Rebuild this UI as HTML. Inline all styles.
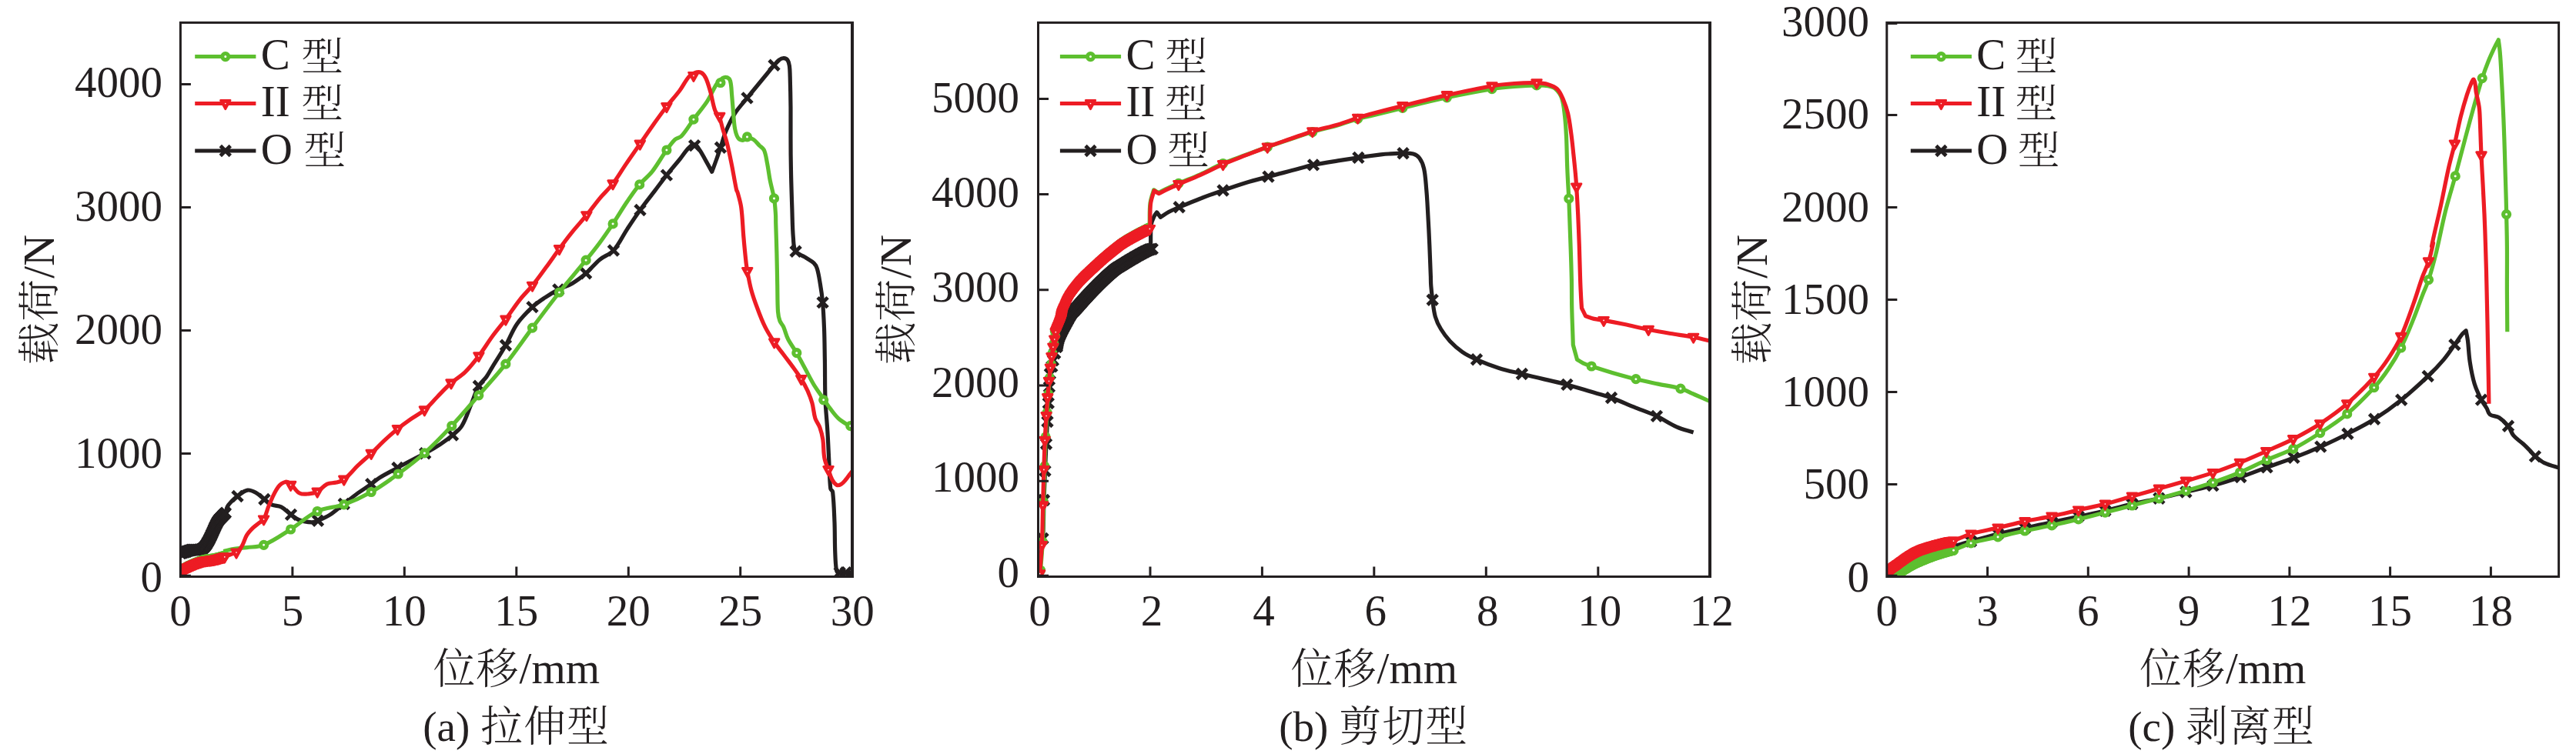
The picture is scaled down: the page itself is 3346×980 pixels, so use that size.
<!DOCTYPE html>
<html lang="zh"><head><meta charset="utf-8"><title>载荷-位移曲线</title>
<style>html,body{margin:0;padding:0;background:#fff}body{width:3346px;height:980px;overflow:hidden}
svg{display:block}text{font-family:"Liberation Serif","Noto Serif CJK SC",serif;font-size:57px;fill:#231f20;font-weight:400}
.cj{font-weight:300;font-size:55px;letter-spacing:1px}
</style></head><body>
<svg width="3346" height="980" viewBox="0 0 3346 980">
<defs>
<g id="mC"><circle r="4.05" fill="#fff" stroke="#5dbf2f" stroke-width="5.1"/></g>
<g id="mR"><path d="M-6.3,-4.1 L6.3,-4.1 L0,7.2 Z" fill="#ed1c24" stroke="#ed1c24" stroke-width="2.8" stroke-linejoin="round"/><circle r="0.85" fill="#fff"/></g>
<g id="mK"><path d="M-6.5,-6.5 L6.5,6.5 M-6.5,6.5 L6.5,-6.5" fill="none" stroke="#231f20" stroke-width="4.8"/></g>
<g id="mCs"><circle r="6.5" fill="#5dbf2f"/></g>
<g id="mRs"><path d="M-6.3,-4.1 L6.3,-4.1 L0,7.2 Z" fill="#ed1c24" stroke="#ed1c24" stroke-width="2.8" stroke-linejoin="round"/></g>
<clipPath id="cp0"><rect x="234.4" y="29.4" width="872.8" height="720.1"/></clipPath>
<clipPath id="cp1"><rect x="1348.5" y="29.4" width="872.7" height="720.1"/></clipPath>
<clipPath id="cp2"><rect x="2450.8" y="29.4" width="872.8" height="720.1"/></clipPath>
</defs>
<g id="chart0">
<g clip-path="url(#cp0)" fill="none" stroke-linejoin="round" stroke-linecap="butt">
<use href="#mK" x="234.9" y="719.1"/>
<use href="#mK" x="236.4" y="718.6"/>
<use href="#mK" x="237.9" y="718.1"/>
<use href="#mK" x="239.5" y="717.6"/>
<use href="#mK" x="241" y="717.2"/>
<use href="#mK" x="242.5" y="716.7"/>
<use href="#mK" x="244" y="716.1"/>
<use href="#mK" x="245.5" y="715.6"/>
<use href="#mK" x="247.1" y="715.2"/>
<use href="#mK" x="248.6" y="714.8"/>
<use href="#mK" x="250.2" y="714.7"/>
<use href="#mK" x="251.8" y="714.6"/>
<use href="#mK" x="253.4" y="714.7"/>
<use href="#mK" x="255" y="714.8"/>
<use href="#mK" x="256.6" y="714.8"/>
<use href="#mK" x="258.2" y="714.6"/>
<use href="#mK" x="259.8" y="714.4"/>
<use href="#mK" x="261.3" y="713.9"/>
<use href="#mK" x="262.8" y="713.2"/>
<use href="#mK" x="264.1" y="712.2"/>
<use href="#mK" x="265.2" y="711.2"/>
<use href="#mK" x="266.3" y="710"/>
<use href="#mK" x="267.3" y="708.7"/>
<use href="#mK" x="268.2" y="707.4"/>
<use href="#mK" x="269" y="706"/>
<use href="#mK" x="269.8" y="704.6"/>
<use href="#mK" x="270.6" y="703.3"/>
<use href="#mK" x="271.4" y="701.9"/>
<use href="#mK" x="272.1" y="700.4"/>
<use href="#mK" x="272.8" y="699"/>
<use href="#mK" x="273.5" y="697.5"/>
<use href="#mK" x="274.2" y="696.1"/>
<use href="#mK" x="274.8" y="694.6"/>
<use href="#mK" x="275.5" y="693.2"/>
<use href="#mK" x="276.2" y="691.7"/>
<use href="#mK" x="276.8" y="690.3"/>
<use href="#mK" x="277.5" y="688.8"/>
<use href="#mK" x="278.1" y="687.3"/>
<use href="#mK" x="278.8" y="685.9"/>
<use href="#mK" x="279.4" y="684.4"/>
<use href="#mK" x="280.1" y="683"/>
<use href="#mK" x="280.8" y="681.5"/>
<use href="#mK" x="281.5" y="680.1"/>
<use href="#mK" x="282.3" y="678.7"/>
<use href="#mK" x="283.1" y="677.3"/>
<use href="#mK" x="284.1" y="676"/>
<use href="#mK" x="285.1" y="674.8"/>
<use href="#mK" x="286.2" y="673.6"/>
<use href="#mK" x="287.3" y="672.5"/>
<use href="#mK" x="288.4" y="671.3"/>
<use href="#mK" x="289.5" y="670.2"/>
<use href="#mK" x="290.6" y="669"/>
<use href="#mK" x="291.8" y="667.9"/>
<use href="#mK" x="292.9" y="666.8"/>
<path d="M293.4,666.3 C294,663.8 293.8,661.4 295,659.1 C296.4,656.2 298.4,654.2 300.6,651.9 C303.1,649.2 305.5,647.1 308.5,645 C312.8,641.9 316.2,637.9 321.5,637.1 C325.8,636.4 329.6,638.9 333.4,641 C337.3,643.2 339.8,646.3 343.4,649 C346.8,651.6 349.4,654.4 353.3,656.2 C357.2,657.9 361.4,657 365.2,658.9 C370.3,661.5 373.4,665.6 378,668.9 C381.7,671.6 384.8,674.4 389.1,676 C394.4,678 399.4,678.6 405,678.8 C407.9,678.9 410.3,677.9 413,676.8 C418.7,674.4 423.7,672.3 428.9,668.9 C435.5,664.6 440.5,659.8 446.8,655 C453.1,650.1 458.3,645.7 464.7,641 C470.7,636.7 476.2,633.4 482.2,629.1 C485.9,626.5 488.6,623.5 492.5,621.2 C500.6,616.2 508,612.6 516.4,608 C523.3,604.2 529.3,600.9 536.3,597.3 C541.8,594.4 546.8,592.4 552.2,589.3 C559.3,585.4 565.3,581.9 572.1,577.4 C577.9,573.5 582.7,570 588,565.5 C592.5,561.6 596.9,558.6 599.9,553.5 C605.4,544.4 607.7,535.5 611.9,525.7 C615.4,517.4 617.4,509.7 621.8,501.8 C624.4,497.1 628.6,494.3 631.8,489.9 C634.9,485.5 636.9,481.3 639.8,476.6 C645.7,466.9 651.2,458.7 656.9,448.8 C662.4,439.2 665.3,430 671.6,420.9 C677.5,412.4 684,406.2 691.5,399.1 C696.5,394.3 701.6,391 707.4,387.1 C713.5,383.1 718.8,379.8 725.3,376.4 C731.4,373.2 737.3,371.9 743.2,368.4 C749.9,364.5 755.2,360.4 761.1,355.3 C767.8,349.5 772.2,343.1 779,337.4 C784.8,332.6 791.9,331.1 796.9,325.5 C804.6,316.9 808.4,307.3 814.8,297.6 C820.5,288.9 825.4,281.4 831.5,273 C837.9,264 843.9,256.7 850.6,247.9 C856,240.8 860.4,234.6 865.9,227.6 C871.7,220.3 877.1,214.2 883,207 C887.2,201.7 890.1,196.6 894.9,191.8 C896.9,189.8 899.3,187.2 902.1,187.9 C905.4,188.6 906.9,192.2 908.8,195 C912,199.6 914,204.1 916.8,208.9 C919.6,213.9 922,218.2 924.7,223.3 C924.7,223.3 924.7,223.3 924.7,223.3 C926.8,217.6 928.7,212.7 930.7,207 C932.6,201.7 934.1,197.1 935.9,191.8 C938.3,184.6 939.7,178.2 942.6,171.2 C946.3,162.5 949.6,155.2 954.6,147.3 C959.4,139.8 964.9,134.3 970.5,127.4 C976.7,119.7 982.1,113.2 988.4,105.5 C994.4,98.3 999.4,92 1005.5,84.8 C1007.7,82.2 1009.5,79.7 1012.3,77.7 C1014,76.4 1016,75.6 1018.2,75.7 C1020.1,75.8 1021.9,76.6 1023,78.1 C1024.6,80.3 1025,82.9 1025.4,85.6 C1026.1,90.5 1026,94.7 1026.2,99.6 C1026.6,113.5 1026.8,125.4 1027,139.3 C1027.1,153.3 1026.9,165.2 1027,179.1 C1027,193 1027.1,205 1027.4,218.9 C1027.7,236.7 1028.2,252 1028.8,269.8 C1029.3,283.7 1029.2,295.7 1030.4,309.6 C1030.9,315.6 1030.4,321.5 1033.6,326.7 C1036.2,330.9 1041.4,331.5 1045.5,334.2 C1049.7,337 1053.8,338.7 1057.4,342.2 C1059.5,344.1 1060.6,346.6 1061.4,349.3 C1063.4,356.1 1064.2,362.2 1065.4,369.2 C1066.8,377.5 1067.8,384.7 1068.6,393.1 C1069.7,405.6 1070.1,416.3 1070.6,428.9 C1071.1,442.8 1071.1,454.7 1071.4,468.7 C1071.7,486.6 1071.4,501.9 1072,519.8 C1072.6,533.7 1074,545.6 1074.8,559.6 C1075.7,573.5 1076.1,585.5 1076.8,599.4 C1077.5,611.9 1077.3,622.7 1078.8,635.2 C1079,636.9 1081.4,637.5 1081.6,639.2 C1083.2,653 1083.4,665 1084,679 C1084.5,692.9 1084.2,704.8 1084.8,718.8 C1085.1,726.4 1085.2,733.1 1086.4,740.6 C1086.6,742.1 1087.3,744 1088.8,744.2 C1097,745.4 1104.3,744.2 1112.6,744.2" stroke="#231f20" stroke-width="5.2"/>
<use href="#mK" x="308.5" y="645"/>
<use href="#mK" x="343.4" y="649"/>
<use href="#mK" x="378" y="668.9"/>
<use href="#mK" x="413" y="676.8"/>
<use href="#mK" x="446.8" y="655"/>
<use href="#mK" x="482.2" y="629.1"/>
<use href="#mK" x="516.4" y="608"/>
<use href="#mK" x="552.2" y="589.3"/>
<use href="#mK" x="588" y="565.5"/>
<use href="#mK" x="621.8" y="501.8"/>
<use href="#mK" x="656.9" y="448.8"/>
<use href="#mK" x="691.5" y="399.1"/>
<use href="#mK" x="725.3" y="376.4"/>
<use href="#mK" x="761.1" y="355.3"/>
<use href="#mK" x="796.9" y="325.5"/>
<use href="#mK" x="831.5" y="273"/>
<use href="#mK" x="865.9" y="227.6"/>
<use href="#mK" x="902.1" y="189.1"/>
<use href="#mK" x="935.9" y="191.8"/>
<use href="#mK" x="970.5" y="127.4"/>
<use href="#mK" x="1005.5" y="84.8"/>
<use href="#mK" x="1033.6" y="326.7"/>
<use href="#mK" x="1068.6" y="393.1"/>
<use href="#mK" x="1090.7" y="744.2"/>
<use href="#mK" x="1098.7" y="744.2"/>
<use href="#mCs" x="236.9" y="739.4"/>
<use href="#mCs" x="238.3" y="738.7"/>
<use href="#mCs" x="239.7" y="737.9"/>
<use href="#mCs" x="241.1" y="737.1"/>
<use href="#mCs" x="242.5" y="736.4"/>
<use href="#mCs" x="243.9" y="735.6"/>
<use href="#mCs" x="245.4" y="734.9"/>
<use href="#mCs" x="246.8" y="734.2"/>
<use href="#mCs" x="248.3" y="733.5"/>
<use href="#mCs" x="249.7" y="732.9"/>
<use href="#mCs" x="251.2" y="732.2"/>
<use href="#mCs" x="252.7" y="731.6"/>
<use href="#mCs" x="254.1" y="731"/>
<use href="#mCs" x="255.6" y="730.4"/>
<use href="#mCs" x="257.1" y="729.9"/>
<use href="#mCs" x="258.6" y="729.3"/>
<use href="#mCs" x="260.2" y="728.8"/>
<use href="#mCs" x="261.7" y="728.3"/>
<use href="#mCs" x="263.2" y="727.8"/>
<use href="#mCs" x="264.7" y="727.4"/>
<use href="#mCs" x="266.3" y="727.1"/>
<use href="#mCs" x="267.9" y="726.8"/>
<use href="#mCs" x="269.5" y="726.6"/>
<use href="#mCs" x="271.1" y="726.4"/>
<use href="#mCs" x="272.7" y="726.3"/>
<use href="#mCs" x="274.2" y="726.1"/>
<use href="#mCs" x="275.8" y="725.9"/>
<use href="#mCs" x="277.4" y="725.6"/>
<use href="#mCs" x="279" y="725.3"/>
<use href="#mCs" x="280.5" y="724.9"/>
<use href="#mCs" x="282.1" y="724.6"/>
<use href="#mCs" x="283.6" y="724.2"/>
<use href="#mCs" x="285.2" y="723.8"/>
<use href="#mCs" x="286.7" y="723.3"/>
<use href="#mCs" x="288.3" y="722.9"/>
<use href="#mCs" x="289.8" y="722.5"/>
<use href="#mCs" x="291.4" y="722.1"/>
<path d="M290.3,716.5 C295.3,715.3 299.5,714 304.6,713.2 C310.1,712.3 315,712.3 320.5,711.6 C328.2,710.6 335.4,711.3 342.6,708.3 C355.7,702.9 365.6,695.5 377.6,688 C390,680.2 398.9,670.7 412.2,664.5 C423.5,659.2 435,660 446.8,655.8 C459.6,651.2 470.3,646.2 482.2,639.5 C495,632.2 505.3,624.7 517.2,616 C529.5,607 540,599.1 551.4,588.9 C564.4,577.2 574.8,566.3 586.8,553.5 C599.5,540 609.6,527.7 621.8,513.8 C634.1,499.6 645.1,487.9 656.8,473.2 C669.5,457.2 679.2,442.5 691.5,426.1 C703.6,409.9 713.9,395.9 726.5,380 C738.3,365.1 749.1,352.9 761.1,338.2 C767.5,330.4 773,323.7 779,315.5 C785.2,307.1 790.3,299.6 796.1,290.9 C802.8,280.8 808,271.8 814.8,261.8 C820.1,254 824.7,247.2 830.7,239.9 C836,233.6 842.1,229.4 847.2,222.9 C854.4,213.6 859,204.6 865.9,195 C869.5,189.9 872.5,185.4 877,181.1 C879.3,179 882.9,179.4 885,177.1 C891.4,170.2 895.2,162.9 900.9,155.2 C907.1,146.8 913.1,140.1 918.8,131.4 C923.5,124.1 925.9,116.8 930.7,109.5 C932.9,106.2 935.3,103.6 938.7,101.5 C940.4,100.4 942.7,100 944.6,100.7 C946.6,101.6 948.1,103.4 948.6,105.5 C950.2,111.6 950,117.1 950.6,123.4 C951.4,131.8 951.8,138.9 952.6,147.3 C953.2,154.3 953.3,160.3 954.6,167.2 C955.4,171.5 956.1,175.4 958.6,179.1 C959.9,181.1 962.2,182.3 964.5,182.3 C966.9,182.3 968.1,179.3 970.5,179.1 C973.3,178.9 976,179.6 978.4,181.1 C981.8,183.2 983.6,186.3 986.4,189.1 C988.5,191.1 991.1,192.3 992.4,195 C994.7,200.2 995.2,205.3 996.3,210.9 C998,219.2 998.7,226.5 1000.3,234.8 C1001.9,242.9 1004.2,249.7 1005.5,257.9 C1006.7,265 1007,271.3 1007.5,278.6 C1007.8,282.4 1007.6,285.8 1007.7,289.7 C1008.1,303.6 1008.6,315.5 1008.9,329.4 C1009.3,343.4 1009.4,355.3 1009.7,369.2 C1010,381.8 1009.7,392.5 1010.5,405 C1010.8,409.3 1011.4,412.9 1012.9,417 C1014,420 1016.3,421.9 1017.7,424.9 C1020.1,430.3 1020.9,435.5 1023.6,440.8 C1027,447.4 1031.1,452.3 1034.8,458.7 C1038.7,465.6 1041.7,471.7 1045.5,478.6 C1049.7,486.3 1052.9,493 1057.4,500.5 C1061.6,507.2 1065.7,512.6 1070.2,519.2 C1073.2,523.6 1075.6,527.5 1078.8,531.7 C1082.1,536.1 1084.8,539.9 1088.8,543.7 C1091.9,546.6 1095.1,548.6 1098.7,550.8 C1100.7,552.1 1102.5,552.9 1104.7,553.6 C1107.4,554.5 1109.8,554.9 1112.6,555.6" stroke="#5dbf2f" stroke-width="5.2"/>
<use href="#mC" x="342.6" y="708.3"/>
<use href="#mC" x="377.6" y="688"/>
<use href="#mC" x="412.2" y="664.5"/>
<use href="#mC" x="446.8" y="655.8"/>
<use href="#mC" x="482.2" y="639.5"/>
<use href="#mC" x="517.2" y="616"/>
<use href="#mC" x="551.4" y="588.9"/>
<use href="#mC" x="586.8" y="553.5"/>
<use href="#mC" x="621.8" y="513.8"/>
<use href="#mC" x="656.8" y="473.2"/>
<use href="#mC" x="691.5" y="426.1"/>
<use href="#mC" x="726.5" y="380"/>
<use href="#mC" x="761.1" y="338.2"/>
<use href="#mC" x="796.1" y="290.9"/>
<use href="#mC" x="830.7" y="239.9"/>
<use href="#mC" x="865.9" y="195"/>
<use href="#mC" x="900.9" y="155.2"/>
<use href="#mC" x="935.9" y="107.5"/>
<use href="#mC" x="970.5" y="177.9"/>
<use href="#mC" x="1005.5" y="257.9"/>
<use href="#mC" x="1034.8" y="458.7"/>
<use href="#mC" x="1069.7" y="519.8"/>
<use href="#mC" x="1104.7" y="553.6"/>
<use href="#mRs" x="236.9" y="741.2"/>
<use href="#mRs" x="238.3" y="740.5"/>
<use href="#mRs" x="239.7" y="739.7"/>
<use href="#mRs" x="241.1" y="738.9"/>
<use href="#mRs" x="242.5" y="738.2"/>
<use href="#mRs" x="243.9" y="737.4"/>
<use href="#mRs" x="245.4" y="736.7"/>
<use href="#mRs" x="246.8" y="736"/>
<use href="#mRs" x="248.3" y="735.3"/>
<use href="#mRs" x="249.7" y="734.7"/>
<use href="#mRs" x="251.2" y="734"/>
<use href="#mRs" x="252.7" y="733.4"/>
<use href="#mRs" x="254.1" y="732.8"/>
<use href="#mRs" x="255.6" y="732.2"/>
<use href="#mRs" x="257.1" y="731.7"/>
<use href="#mRs" x="258.6" y="731.1"/>
<use href="#mRs" x="260.2" y="730.6"/>
<use href="#mRs" x="261.7" y="730.1"/>
<use href="#mRs" x="263.2" y="729.6"/>
<use href="#mRs" x="264.7" y="729.2"/>
<use href="#mRs" x="266.3" y="728.9"/>
<use href="#mRs" x="267.9" y="728.6"/>
<use href="#mRs" x="269.5" y="728.4"/>
<use href="#mRs" x="271.1" y="728.2"/>
<use href="#mRs" x="272.7" y="728.1"/>
<use href="#mRs" x="274.2" y="727.9"/>
<use href="#mRs" x="275.8" y="727.7"/>
<use href="#mRs" x="277.4" y="727.4"/>
<use href="#mRs" x="279" y="727.1"/>
<use href="#mRs" x="280.5" y="726.7"/>
<use href="#mRs" x="282.1" y="726.4"/>
<use href="#mRs" x="283.6" y="726"/>
<use href="#mRs" x="285.2" y="725.6"/>
<use href="#mRs" x="286.7" y="725.1"/>
<use href="#mRs" x="288.3" y="724.7"/>
<use href="#mRs" x="289.8" y="724.3"/>
<use href="#mRs" x="291.4" y="723.9"/>
<path d="M291.8,723.6 C294.7,722.5 297.1,721.6 300,720.5 C302.4,719.6 304.9,719.6 307,718 C310,715.8 312.2,713.2 314.1,710 C316.9,705.3 317.7,700.4 320.5,695.7 C322.8,692 325.4,689.3 328.5,686.2 C331,683.7 333.6,682 336.4,679.8 C338.6,678.1 341.2,677.3 342.6,674.9 C345.9,669 346.6,663.1 349.3,657 C353.1,648.4 355.8,640.7 361.3,633.1 C363.7,629.7 367.1,627.3 371.2,626.3 C373.6,625.7 375.7,627.6 377.6,629.1 C382.1,632.8 384,638.3 389.1,641 C392.8,643 396.9,642.2 401,641.8 C405,641.5 408.6,640.9 412.2,639.1 C417.2,636.4 419.8,631.6 424.9,629.1 C428.7,627.3 432.8,628.2 436.8,627.1 C440.5,626.1 443.8,625.5 446.8,623.1 C453.8,617.7 458.3,611.4 464.7,605.2 C470.7,599.5 476.2,595 482.2,589.3 C488.7,583.2 493.9,577.5 500.5,571.4 C505.9,566.4 510.7,562.2 516.4,557.5 C521.8,553.1 526.6,549.6 532.3,545.6 C538.9,541 545.2,538 551.4,532.8 C557.8,527.5 562.2,521.7 568.1,515.7 C574.3,509.4 579.4,503.7 586,497.8 C591.9,492.6 598.2,489.5 603.9,483.9 C610.9,477.1 616,470.4 621.9,462.7 C628.5,453.9 633.3,445.7 639.8,436.8 C645.5,429 651,422.7 656.9,415 C663.6,406 668.6,397.9 675.6,389.1 C680.8,382.5 686.2,377.7 691.5,371.2 C698.1,363.1 703.2,355.8 709.4,347.3 C715.5,339.1 720.4,331.7 726.5,323.5 C732.2,315.7 737.1,309.1 743.2,301.6 C749.5,293.8 755.5,287.5 761.9,279.7 C768,272.2 772.8,265.3 779,257.8 C784.7,251 790.7,245.9 796.1,238.8 C802.7,230.1 807.2,221.9 813.4,212.9 C819.6,203.8 825,196.1 831.3,187.1 C837.5,178 842.8,170.2 849.2,161.2 C854.9,153.2 859.8,146.3 865.9,138.5 C871.7,131 877.3,125.1 883,117.5 C887.5,111.4 890,105.3 894.9,99.6 C897.1,97 899.7,95.4 902.9,94.4 C905.5,93.5 908.3,93.1 910.8,94.4 C913.7,95.9 915.4,98.6 916.8,101.5 C919.6,107.5 920.9,113.1 922.8,119.4 C925.1,127.7 925.9,135.2 928.7,143.3 C930.1,147.1 933.1,149.5 934.7,153.3 C936.6,157.9 937.2,162.3 938.7,167.2 C940.7,174.1 942.9,180 944.6,187.1 C947,196.7 948.6,205.1 950.6,214.9 C952.8,226 954.2,235.6 956.6,246.7 C956.8,247.9 957.7,248.7 958,249.9 C959.9,256.8 961.8,262.7 962.8,269.8 C964.6,283.6 964.7,295.6 966,309.6 C966.9,320.7 967.9,330.3 969.1,341.4 C969.6,345.3 970,348.6 970.7,352.5 C972.4,361.2 973.6,368.7 975.9,377.2 C978.2,385.7 980.8,392.8 983.9,401 C987,409.5 989.7,416.8 993.8,424.9 C997.4,432.2 1001.2,438 1005.7,444.8 C1009.6,450.6 1013.5,455.1 1017.7,460.7 C1021.8,466.3 1025.5,471 1029.6,476.6 C1033.6,482.1 1037.1,486.8 1040.7,492.5 C1043.9,497.7 1046.4,502.3 1049,507.9 C1051.4,513.3 1053.3,518 1054.9,523.8 C1056.8,530.6 1056.8,536.9 1058.9,543.7 C1060.3,548.1 1063.3,551.2 1064.9,555.6 C1066.8,561 1068,565.8 1068.9,571.5 C1070.1,579.8 1069.3,587.2 1070.9,595.4 C1071.9,600.9 1074.1,605.3 1076,610.5 C1077.6,615 1078.5,619.1 1080.8,623.3 C1082.4,626.1 1083.8,629 1086.8,630.4 C1088.7,631.4 1090.9,630.3 1092.7,629.2 C1095.3,627.7 1096.8,625.5 1098.7,623.3 C1101,620.6 1102.5,618 1104.7,615.3 C1107.4,611.8 1109.8,608.8 1112.6,605.3" stroke="#ed1c24" stroke-width="5.2"/>
<use href="#mR" x="291.8" y="723.8"/>
<use href="#mR" x="307" y="718"/>
<use href="#mR" x="342.6" y="674.9"/>
<use href="#mR" x="377.6" y="630.3"/>
<use href="#mR" x="412.2" y="639.1"/>
<use href="#mR" x="446.8" y="623.1"/>
<use href="#mR" x="482.2" y="589.3"/>
<use href="#mR" x="516.4" y="557.5"/>
<use href="#mR" x="551.4" y="532.8"/>
<use href="#mR" x="586" y="497.8"/>
<use href="#mR" x="621.9" y="462.7"/>
<use href="#mR" x="656.9" y="415"/>
<use href="#mR" x="691.5" y="371.2"/>
<use href="#mR" x="726.5" y="323.5"/>
<use href="#mR" x="761.9" y="279.7"/>
<use href="#mR" x="796.1" y="238.8"/>
<use href="#mR" x="831.3" y="187.1"/>
<use href="#mR" x="865.9" y="138.5"/>
<use href="#mR" x="900.9" y="98.4"/>
<use href="#mR" x="934.7" y="151.3"/>
<use href="#mR" x="970.7" y="352.5"/>
<use href="#mR" x="1005.7" y="444.8"/>
<use href="#mR" x="1040.7" y="492.5"/>
<use href="#mR" x="1076" y="610.5"/>
</g>
<rect x="234.4" y="29.4" width="872.8" height="720.1" fill="none" stroke="#231f20" stroke-width="3"/>
<path d="M1107,27.9 V751" fill="none" stroke="#231f20" stroke-width="4"/>
<path d="M379.9,749.5 v-13 M525.3,749.5 v-13 M670.8,749.5 v-13 M816.3,749.5 v-13 M961.7,749.5 v-13 M234.4,748.3 h13.5 M234.4,589.5 h13.5 M234.4,429.5 h13.5 M234.4,269.5 h13.5 M234.4,109.5 h13.5" fill="none" stroke="#231f20" stroke-width="3"/>
<text x="234.4" y="813.2" text-anchor="middle">0</text>
<text x="379.9" y="813.2" text-anchor="middle">5</text>
<text x="525.3" y="813.2" text-anchor="middle">10</text>
<text x="670.8" y="813.2" text-anchor="middle">15</text>
<text x="816.3" y="813.2" text-anchor="middle">20</text>
<text x="961.7" y="813.2" text-anchor="middle">25</text>
<text x="1107.2" y="813.2" text-anchor="middle">30</text>
<text x="210.9" y="768.5" text-anchor="end">0</text>
<text x="210.9" y="608" text-anchor="end">1000</text>
<text x="210.9" y="447.4" text-anchor="end">2000</text>
<text x="210.9" y="286.9" text-anchor="end">3000</text>
<text x="210.9" y="126.3" text-anchor="end">4000</text>
<text x="670.8" y="888.3" text-anchor="middle"><tspan class="cj">位移</tspan>/mm</text>
<text transform="translate(70,389.3) rotate(-90)" text-anchor="middle"><tspan class="cj">载荷</tspan>/N</text>
<text x="670.6" y="962.8" text-anchor="middle" style="font-size:55px">(a) <tspan class="cj">拉伸型</tspan></text>
<path d="M253.2,73.6 h79.2" stroke="#5dbf2f" stroke-width="5" fill="none"/>
<use href="#mC" x="292.8" y="73.6"/>
<text x="338.7" y="90.4">C</text>
<text class="cj" transform="translate(391.3,90.6) scale(1,0.9)">型</text>
<path d="M253.2,134.5 h79.2" stroke="#ed1c24" stroke-width="5" fill="none"/>
<use href="#mR" x="292.8" y="134.5"/>
<text x="338.7" y="151.3">II</text>
<text class="cj" transform="translate(391.2,151.5) scale(1,0.9)">型</text>
<path d="M253.2,196 h79.2" stroke="#231f20" stroke-width="5" fill="none"/>
<use href="#mK" x="292.8" y="196"/>
<text x="338.7" y="212.8">O</text>
<text class="cj" transform="translate(394.4,213) scale(1,0.9)">型</text>
</g>
<g id="chart1">
<g clip-path="url(#cp1)" fill="none" stroke-linejoin="round" stroke-linecap="butt">
<use href="#mK" x="1372.6" y="450.9"/>
<use href="#mK" x="1372.9" y="449.3"/>
<use href="#mK" x="1373.2" y="447.8"/>
<use href="#mK" x="1373.5" y="446.2"/>
<use href="#mK" x="1373.8" y="444.6"/>
<use href="#mK" x="1374.1" y="443"/>
<use href="#mK" x="1374.5" y="441.5"/>
<use href="#mK" x="1374.9" y="439.9"/>
<use href="#mK" x="1375.4" y="438.4"/>
<use href="#mK" x="1376" y="437"/>
<use href="#mK" x="1376.6" y="435.5"/>
<use href="#mK" x="1377.3" y="434"/>
<use href="#mK" x="1377.9" y="432.6"/>
<use href="#mK" x="1378.6" y="431.1"/>
<use href="#mK" x="1379.3" y="429.7"/>
<use href="#mK" x="1380.1" y="428.2"/>
<use href="#mK" x="1380.8" y="426.8"/>
<use href="#mK" x="1381.5" y="425.4"/>
<use href="#mK" x="1382.3" y="424"/>
<use href="#mK" x="1383.1" y="422.6"/>
<use href="#mK" x="1383.8" y="421.2"/>
<use href="#mK" x="1384.6" y="419.8"/>
<use href="#mK" x="1385.3" y="418.4"/>
<use href="#mK" x="1386.1" y="417"/>
<use href="#mK" x="1386.9" y="415.6"/>
<use href="#mK" x="1387.6" y="414.2"/>
<use href="#mK" x="1388.4" y="412.8"/>
<use href="#mK" x="1389.2" y="411.4"/>
<use href="#mK" x="1390.1" y="410"/>
<use href="#mK" x="1390.9" y="408.7"/>
<use href="#mK" x="1391.8" y="407.3"/>
<use href="#mK" x="1392.7" y="406"/>
<use href="#mK" x="1394" y="405.1"/>
<use href="#mK" x="1395.1" y="403.9"/>
<use href="#mK" x="1396.2" y="402.7"/>
<use href="#mK" x="1397.3" y="401.6"/>
<use href="#mK" x="1398.3" y="400.4"/>
<use href="#mK" x="1399.4" y="399.2"/>
<use href="#mK" x="1400.5" y="398"/>
<use href="#mK" x="1401.6" y="396.8"/>
<use href="#mK" x="1402.6" y="395.6"/>
<use href="#mK" x="1403.7" y="394.4"/>
<use href="#mK" x="1404.7" y="393.2"/>
<use href="#mK" x="1405.8" y="392"/>
<use href="#mK" x="1406.9" y="390.8"/>
<use href="#mK" x="1407.9" y="389.6"/>
<use href="#mK" x="1409" y="388.4"/>
<use href="#mK" x="1410.1" y="387.2"/>
<use href="#mK" x="1411.2" y="386.1"/>
<use href="#mK" x="1412.2" y="384.9"/>
<use href="#mK" x="1413.3" y="383.7"/>
<use href="#mK" x="1414.4" y="382.5"/>
<use href="#mK" x="1415.5" y="381.4"/>
<use href="#mK" x="1416.6" y="380.2"/>
<use href="#mK" x="1417.7" y="379"/>
<use href="#mK" x="1418.8" y="377.9"/>
<use href="#mK" x="1419.9" y="376.7"/>
<use href="#mK" x="1421" y="375.6"/>
<use href="#mK" x="1422.1" y="374.4"/>
<use href="#mK" x="1423.3" y="373.3"/>
<use href="#mK" x="1424.4" y="372.2"/>
<use href="#mK" x="1425.5" y="371"/>
<use href="#mK" x="1426.6" y="369.9"/>
<use href="#mK" x="1427.8" y="368.8"/>
<use href="#mK" x="1428.9" y="367.6"/>
<use href="#mK" x="1430.1" y="366.5"/>
<use href="#mK" x="1431.2" y="365.4"/>
<use href="#mK" x="1432.4" y="364.3"/>
<use href="#mK" x="1433.5" y="363.2"/>
<use href="#mK" x="1434.7" y="362.1"/>
<use href="#mK" x="1435.9" y="361"/>
<use href="#mK" x="1437" y="359.9"/>
<use href="#mK" x="1438.2" y="358.8"/>
<use href="#mK" x="1439.4" y="357.8"/>
<use href="#mK" x="1440.6" y="356.7"/>
<use href="#mK" x="1441.8" y="355.6"/>
<use href="#mK" x="1443" y="354.6"/>
<use href="#mK" x="1444.2" y="353.5"/>
<use href="#mK" x="1445.4" y="352.5"/>
<use href="#mK" x="1446.7" y="351.5"/>
<use href="#mK" x="1447.9" y="350.5"/>
<use href="#mK" x="1449.2" y="349.5"/>
<use href="#mK" x="1450.5" y="348.6"/>
<use href="#mK" x="1451.8" y="347.7"/>
<use href="#mK" x="1453.2" y="346.9"/>
<use href="#mK" x="1454.6" y="346.1"/>
<use href="#mK" x="1455.9" y="345.2"/>
<use href="#mK" x="1457.3" y="344.4"/>
<use href="#mK" x="1458.7" y="343.6"/>
<use href="#mK" x="1460" y="342.7"/>
<use href="#mK" x="1461.4" y="341.9"/>
<use href="#mK" x="1462.7" y="341"/>
<use href="#mK" x="1464.1" y="340.2"/>
<use href="#mK" x="1465.5" y="339.4"/>
<use href="#mK" x="1466.8" y="338.5"/>
<use href="#mK" x="1468.2" y="337.7"/>
<use href="#mK" x="1469.6" y="336.9"/>
<use href="#mK" x="1471" y="336.1"/>
<use href="#mK" x="1472.4" y="335.3"/>
<use href="#mK" x="1473.7" y="334.5"/>
<use href="#mK" x="1475.1" y="333.7"/>
<use href="#mK" x="1476.5" y="332.9"/>
<use href="#mK" x="1477.9" y="332.1"/>
<use href="#mK" x="1479.3" y="331.3"/>
<use href="#mK" x="1480.7" y="330.6"/>
<use href="#mK" x="1482.1" y="329.8"/>
<use href="#mK" x="1483.5" y="329"/>
<use href="#mK" x="1484.9" y="328.3"/>
<use href="#mK" x="1486.4" y="327.5"/>
<use href="#mK" x="1487.8" y="326.8"/>
<use href="#mK" x="1489.2" y="326.1"/>
<use href="#mK" x="1490.7" y="325.4"/>
<use href="#mK" x="1492.1" y="324.7"/>
<use href="#mK" x="1493.6" y="324.3"/>
<use href="#mK" x="1495.2" y="323.9"/>
<use href="#mK" x="1496.8" y="323.6"/>
<path d="M1348.5,749.2 C1350.6,732 1353.2,717.3 1354.5,700 C1355.8,682.5 1355.4,667.5 1356,650 C1356.5,636.7 1357,625.3 1357.5,612 C1358,599.7 1358.4,589.2 1359,577 C1359.5,566.8 1360,558.1 1360.5,548 C1360.9,539.6 1361.4,532.4 1361.8,524 C1362.2,516.7 1362.5,510.3 1362.9,503 C1363.2,497 1363.1,491.9 1363.9,486 C1364.3,482.6 1365.5,479.8 1366.3,476.4 C1366.9,473.6 1367.3,471.2 1367.9,468.4 C1368.6,465.2 1369.3,462.4 1370.2,459.2 C1371,456.3 1371.8,453.8 1372.6,450.9" stroke="#231f20" stroke-width="5.2"/>
<path d="M1494.6,320 C1494.9,310.1 1494.2,301.6 1495.4,291.8 C1495.9,287.7 1497.7,284.5 1499.4,280.7 C1500.2,278.9 1501.5,277.6 1502.6,275.9 C1502.6,275.9 1502.6,275.9 1502.6,275.9 C1504.3,278.1 1505.7,280.1 1507.4,282.3 C1507.4,282.3 1507.4,282.3 1507.4,282.3 C1511.1,279.9 1514.1,277.6 1518,275.5 C1522.6,273 1526.9,271.4 1531.7,269.3 C1541.2,265.3 1549.2,261.9 1558.8,258.2 C1569.1,254.2 1578.1,251.1 1588.6,247.5 C1599,243.8 1607.9,240.7 1618.4,237.5 C1628.5,234.4 1637.3,232.3 1647.5,229.6 C1658.2,226.7 1667.4,224.4 1678.1,221.6 C1687.8,219.1 1696.1,216.5 1706,214.4 C1717,212.1 1726.6,210.7 1737.8,208.9 C1747.1,207.4 1755.1,206.2 1764.4,204.9 C1774.6,203.4 1783.3,202.2 1793.5,200.9 C1797.1,200.5 1800.2,200.2 1803.9,200 C1810.4,199.6 1816,199.2 1822.6,199.2 C1827.2,199.2 1831.3,198.8 1835.7,200 C1838.9,200.9 1841.7,202.5 1843.6,205.2 C1846.8,209.5 1848.5,213.9 1849.6,219.1 C1851.7,228.7 1851.9,237.2 1852.8,247 C1853.8,258.1 1854.2,267.6 1854.8,278.8 C1855.6,292.7 1856.2,304.6 1856.8,318.6 C1857.4,333 1857.8,345.4 1858.4,359.9 C1858.5,364.1 1858.4,367.7 1858.8,371.8 C1859.3,378.1 1859.9,383.5 1860.7,389.7 C1861.8,397.4 1862.2,404.1 1864.3,411.6 C1866,417.5 1868.3,422.3 1871.5,427.5 C1875.1,433.5 1878.7,438.3 1883.4,443.4 C1888.5,448.8 1893.2,453.1 1899.3,457.3 C1905.4,461.6 1911.2,464.3 1918,467.3 C1928,471.7 1936.7,475.1 1947.1,478.4 C1957.3,481.7 1966.4,483.4 1976.9,486 C1987.3,488.6 1996.3,490.7 2006.7,493.1 C2016.7,495.5 2025.4,497.3 2035.4,499.9 C2046.3,502.8 2055.5,505.8 2066.4,509.1 C2075.7,511.8 2083.9,513.7 2093,517 C2103.4,520.7 2111.9,524.8 2122.1,528.9 C2132.5,533.2 2141.7,536.1 2151.9,540.9 C2161.2,545.2 2168.4,550.6 2177.8,554.8 C2185.1,558.1 2192,559.5 2199.6,562" stroke="#231f20" stroke-width="5.2"/>
<use href="#mK" x="1348.5" y="749.2"/>
<use href="#mK" x="1354.5" y="700"/>
<use href="#mK" x="1356" y="650"/>
<use href="#mK" x="1357.5" y="612"/>
<use href="#mK" x="1359" y="577"/>
<use href="#mK" x="1360.5" y="548"/>
<use href="#mK" x="1361.8" y="524"/>
<use href="#mK" x="1362.9" y="503"/>
<use href="#mK" x="1363.9" y="486"/>
<use href="#mK" x="1366.3" y="476.4"/>
<use href="#mK" x="1367.9" y="468.4"/>
<use href="#mK" x="1370.2" y="459.2"/>
<use href="#mK" x="1372.6" y="450.9"/>
<use href="#mK" x="1531.7" y="269.3"/>
<use href="#mK" x="1588.6" y="247.5"/>
<use href="#mK" x="1647.5" y="229.6"/>
<use href="#mK" x="1706" y="214.4"/>
<use href="#mK" x="1764.4" y="204.9"/>
<use href="#mK" x="1822.6" y="199.2"/>
<use href="#mK" x="1860.7" y="389.7"/>
<use href="#mK" x="1918" y="467.3"/>
<use href="#mK" x="1976.9" y="486"/>
<use href="#mK" x="2035.4" y="499.9"/>
<use href="#mK" x="2093" y="517"/>
<use href="#mK" x="2151.9" y="540.9"/>
<use href="#mCs" x="1370.3" y="430.2"/>
<use href="#mCs" x="1370.9" y="428.7"/>
<use href="#mCs" x="1371.6" y="427.3"/>
<use href="#mCs" x="1372.2" y="425.8"/>
<use href="#mCs" x="1372.8" y="424.3"/>
<use href="#mCs" x="1373.4" y="422.8"/>
<use href="#mCs" x="1374.1" y="421.4"/>
<use href="#mCs" x="1374.7" y="419.9"/>
<use href="#mCs" x="1375.3" y="418.4"/>
<use href="#mCs" x="1375.8" y="416.9"/>
<use href="#mCs" x="1376.4" y="415.4"/>
<use href="#mCs" x="1376.9" y="413.9"/>
<use href="#mCs" x="1377.3" y="412.3"/>
<use href="#mCs" x="1377.6" y="410.8"/>
<use href="#mCs" x="1377.9" y="409.2"/>
<use href="#mCs" x="1378.1" y="407.6"/>
<use href="#mCs" x="1378.5" y="406"/>
<use href="#mCs" x="1378.9" y="404.5"/>
<use href="#mCs" x="1379.5" y="403"/>
<use href="#mCs" x="1380.1" y="401.5"/>
<use href="#mCs" x="1380.8" y="400.1"/>
<use href="#mCs" x="1381.4" y="398.6"/>
<use href="#mCs" x="1382.1" y="397.2"/>
<use href="#mCs" x="1382.8" y="395.7"/>
<use href="#mCs" x="1383.4" y="394.2"/>
<use href="#mCs" x="1384" y="392.8"/>
<use href="#mCs" x="1384.7" y="391.3"/>
<use href="#mCs" x="1385.4" y="389.9"/>
<use href="#mCs" x="1386" y="388.4"/>
<use href="#mCs" x="1386.7" y="387"/>
<use href="#mCs" x="1387.5" y="385.6"/>
<use href="#mCs" x="1388.3" y="384.2"/>
<use href="#mCs" x="1389.1" y="382.8"/>
<use href="#mCs" x="1389.9" y="381.4"/>
<use href="#mCs" x="1390.8" y="380.1"/>
<use href="#mCs" x="1391.7" y="378.8"/>
<use href="#mCs" x="1392.6" y="377.4"/>
<use href="#mCs" x="1393.5" y="376.1"/>
<use href="#mCs" x="1394.4" y="374.8"/>
<use href="#mCs" x="1395.4" y="373.5"/>
<use href="#mCs" x="1396.3" y="372.3"/>
<use href="#mCs" x="1397.3" y="371"/>
<use href="#mCs" x="1398.3" y="369.7"/>
<use href="#mCs" x="1399.3" y="368.5"/>
<use href="#mCs" x="1400.3" y="367.2"/>
<use href="#mCs" x="1401.3" y="366"/>
<use href="#mCs" x="1402.4" y="364.8"/>
<use href="#mCs" x="1403.4" y="363.6"/>
<use href="#mCs" x="1404.5" y="362.4"/>
<use href="#mCs" x="1405.6" y="361.2"/>
<use href="#mCs" x="1406.7" y="360"/>
<use href="#mCs" x="1407.8" y="358.9"/>
<use href="#mCs" x="1408.9" y="357.8"/>
<use href="#mCs" x="1410" y="356.6"/>
<use href="#mCs" x="1411.2" y="355.5"/>
<use href="#mCs" x="1412.3" y="354.4"/>
<use href="#mCs" x="1413.5" y="353.3"/>
<use href="#mCs" x="1414.7" y="352.2"/>
<use href="#mCs" x="1415.8" y="351.1"/>
<use href="#mCs" x="1417" y="350"/>
<use href="#mCs" x="1418.2" y="348.9"/>
<use href="#mCs" x="1419.3" y="347.8"/>
<use href="#mCs" x="1420.5" y="346.7"/>
<use href="#mCs" x="1421.7" y="345.6"/>
<use href="#mCs" x="1422.8" y="344.6"/>
<use href="#mCs" x="1424" y="343.5"/>
<use href="#mCs" x="1425.2" y="342.4"/>
<use href="#mCs" x="1426.4" y="341.3"/>
<use href="#mCs" x="1427.5" y="340.2"/>
<use href="#mCs" x="1428.7" y="339.1"/>
<use href="#mCs" x="1429.9" y="338"/>
<use href="#mCs" x="1431.1" y="337"/>
<use href="#mCs" x="1432.3" y="335.9"/>
<use href="#mCs" x="1433.5" y="334.8"/>
<use href="#mCs" x="1434.7" y="333.8"/>
<use href="#mCs" x="1435.9" y="332.7"/>
<use href="#mCs" x="1437.1" y="331.7"/>
<use href="#mCs" x="1438.3" y="330.7"/>
<use href="#mCs" x="1439.5" y="329.6"/>
<use href="#mCs" x="1440.8" y="328.6"/>
<use href="#mCs" x="1442" y="327.6"/>
<use href="#mCs" x="1443.2" y="326.5"/>
<use href="#mCs" x="1444.4" y="325.5"/>
<use href="#mCs" x="1445.7" y="324.5"/>
<use href="#mCs" x="1446.9" y="323.5"/>
<use href="#mCs" x="1448.1" y="322.5"/>
<use href="#mCs" x="1449.4" y="321.5"/>
<use href="#mCs" x="1450.6" y="320.5"/>
<use href="#mCs" x="1451.9" y="319.5"/>
<use href="#mCs" x="1453.2" y="318.5"/>
<use href="#mCs" x="1454.5" y="317.5"/>
<use href="#mCs" x="1455.7" y="316.6"/>
<use href="#mCs" x="1457" y="315.6"/>
<use href="#mCs" x="1458.3" y="314.7"/>
<use href="#mCs" x="1459.6" y="313.8"/>
<use href="#mCs" x="1461" y="312.9"/>
<use href="#mCs" x="1462.3" y="312"/>
<use href="#mCs" x="1463.7" y="311.2"/>
<use href="#mCs" x="1465" y="310.3"/>
<use href="#mCs" x="1466.4" y="309.5"/>
<use href="#mCs" x="1467.8" y="308.7"/>
<use href="#mCs" x="1469.2" y="308"/>
<use href="#mCs" x="1470.6" y="307.2"/>
<use href="#mCs" x="1472" y="306.4"/>
<use href="#mCs" x="1473.4" y="305.6"/>
<use href="#mCs" x="1474.8" y="304.8"/>
<use href="#mCs" x="1476.2" y="304.1"/>
<use href="#mCs" x="1477.6" y="303.3"/>
<use href="#mCs" x="1479" y="302.6"/>
<use href="#mCs" x="1480.4" y="301.8"/>
<use href="#mCs" x="1481.8" y="301.1"/>
<use href="#mCs" x="1483.3" y="300.4"/>
<use href="#mCs" x="1484.7" y="299.6"/>
<use href="#mCs" x="1486.1" y="298.9"/>
<use href="#mCs" x="1487.6" y="298.2"/>
<use href="#mCs" x="1489" y="297.5"/>
<use href="#mCs" x="1490.4" y="296.7"/>
<use href="#mCs" x="1491.9" y="296.1"/>
<path d="M1351.6,741.2 C1352.5,728.2 1353.7,717 1354.3,704 C1355.1,685.9 1355.1,670.4 1355.6,652.3 C1356,636.1 1356.4,622.1 1356.9,605.9 C1357.3,592.6 1357.6,581.1 1358.2,567.8 C1358.7,556.7 1359.4,547.1 1360.1,536 C1360.6,527.6 1361.1,520.5 1361.7,512.1 C1362.3,504.7 1362.8,498.3 1363.5,490.9 C1364.1,484.8 1364.7,479.7 1365.4,473.6 C1366,468.5 1366.3,464.2 1367,459.1 C1367.6,454.7 1368.2,451 1368.9,446.6 C1369.5,443.1 1370.1,440 1370.7,436.5 C1371.3,433.2 1371.7,430.5 1372.3,427.2" stroke="#5dbf2f" stroke-width="5.2"/>
<path d="M1493,296 C1493.1,294.2 1493.1,292.8 1493.2,291 C1493.5,281.6 1492.9,273.4 1494,264 C1494.8,257.8 1497,252.8 1498.6,246.8 C1498.6,246.8 1498.6,246.8 1498.6,246.8 C1500.7,248.1 1502.5,249.3 1504.6,250.6 C1504.6,250.6 1504.6,250.6 1504.6,250.6 C1508.1,248.9 1511,247.3 1514.5,245.7 C1520.2,243 1525.1,240.8 1530.9,238.3 C1540.6,234.2 1549.1,231.1 1558.8,226.8 C1569.3,222 1578,217 1588.6,212.5 C1598.9,208.1 1608,205.2 1618.4,201.3 C1628.2,197.7 1636.5,194.4 1646.3,191 C1657.4,187.1 1667,183.9 1678.1,180.2 C1687.4,177.1 1695.3,174.2 1704.8,171.5 C1716.2,168.1 1726.3,166.1 1737.8,162.7 C1746.9,160.1 1754.5,157 1763.6,154.4 C1769.3,152.8 1774.3,152.1 1780,150.7 C1794.6,147.2 1807.1,143.9 1821.8,140.4 C1841.9,135.5 1859.2,131.1 1879.4,126.8 C1899.8,122.5 1917.4,119.1 1937.9,115.7 C1948,114 1956.8,113.3 1967,112.5 C1977.1,111.7 1985.8,111.1 1996,110.9 C2001.1,110.8 2005.6,110.7 2010.7,111.7 C2014.4,112.4 2017.9,113.2 2020.7,115.7 C2024.4,119 2027,122.9 2028.6,127.6 C2031.3,135.7 2031.6,143.1 2032.6,151.5 C2033.7,161.2 2034.1,169.6 2034.6,179.3 C2035.2,193.2 2035.2,205.2 2035.8,219.1 C2036.3,232.8 2037.1,244.4 2037.8,258.1 C2038.4,272.3 2038.8,284.5 2039.3,298.7 C2040.1,320.1 2040.8,338.5 2041.3,359.9 C2041.7,373.8 2041.4,385.8 2041.7,399.7 C2042.1,416.7 2042.8,431.2 2043.3,448.2 C2043.3,448.2 2043.3,448.2 2043.3,448.2 C2045.1,454.9 2046.7,460.6 2048.5,467.3 C2048.5,467.3 2048.5,467.3 2048.5,467.3 C2051.3,469 2053.5,470.7 2056.5,472.1 C2060.1,473.8 2063.4,474.8 2067.2,476 C2076.6,479.1 2084.7,481.6 2094.2,484.4 C2104.9,487.5 2114.1,490.1 2124.9,492.7 C2135,495.2 2143.7,496.9 2153.9,499.1 C2164.1,501.3 2173,502.2 2182.9,505.1 C2189.8,507.1 2195.1,510.2 2201.6,513 C2207.9,515.8 2213.3,518.2 2219.5,521 C2223,522.5 2226,523.8 2229.5,525.4" stroke="#5dbf2f" stroke-width="5.2"/>
<use href="#mCs" x="1351.6" y="741.2"/>
<use href="#mCs" x="1354.3" y="704"/>
<use href="#mCs" x="1355.6" y="652.3"/>
<use href="#mCs" x="1356.9" y="605.9"/>
<use href="#mCs" x="1358.2" y="567.8"/>
<use href="#mCs" x="1360.1" y="536"/>
<use href="#mCs" x="1361.7" y="512.1"/>
<use href="#mCs" x="1363.5" y="490.9"/>
<use href="#mCs" x="1365.4" y="473.6"/>
<use href="#mCs" x="1367" y="459.1"/>
<use href="#mCs" x="1368.9" y="446.6"/>
<use href="#mCs" x="1370.7" y="436.5"/>
<use href="#mCs" x="1372.3" y="427.2"/>
<use href="#mC" x="1530.9" y="238.3"/>
<use href="#mC" x="1588.6" y="212.5"/>
<use href="#mC" x="1646.3" y="191"/>
<use href="#mC" x="1704.8" y="171.5"/>
<use href="#mC" x="1763.6" y="154.4"/>
<use href="#mC" x="1821.8" y="140.4"/>
<use href="#mC" x="1879.4" y="126.8"/>
<use href="#mC" x="1937.9" y="115.7"/>
<use href="#mC" x="1996" y="110.9"/>
<use href="#mC" x="2037.8" y="258.1"/>
<use href="#mC" x="2067.2" y="476"/>
<use href="#mC" x="2124.9" y="492.7"/>
<use href="#mC" x="2182.9" y="505.1"/>
<use href="#mRs" x="1371.3" y="431.7"/>
<use href="#mRs" x="1371.9" y="430.2"/>
<use href="#mRs" x="1372.6" y="428.8"/>
<use href="#mRs" x="1373.2" y="427.3"/>
<use href="#mRs" x="1373.8" y="425.8"/>
<use href="#mRs" x="1374.4" y="424.3"/>
<use href="#mRs" x="1375.1" y="422.9"/>
<use href="#mRs" x="1375.7" y="421.4"/>
<use href="#mRs" x="1376.3" y="419.9"/>
<use href="#mRs" x="1376.8" y="418.4"/>
<use href="#mRs" x="1377.4" y="416.9"/>
<use href="#mRs" x="1377.9" y="415.4"/>
<use href="#mRs" x="1378.3" y="413.8"/>
<use href="#mRs" x="1378.6" y="412.3"/>
<use href="#mRs" x="1378.9" y="410.7"/>
<use href="#mRs" x="1379.1" y="409.1"/>
<use href="#mRs" x="1379.5" y="407.5"/>
<use href="#mRs" x="1379.9" y="406"/>
<use href="#mRs" x="1380.5" y="404.5"/>
<use href="#mRs" x="1381.1" y="403"/>
<use href="#mRs" x="1381.8" y="401.6"/>
<use href="#mRs" x="1382.4" y="400.1"/>
<use href="#mRs" x="1383.1" y="398.7"/>
<use href="#mRs" x="1383.8" y="397.2"/>
<use href="#mRs" x="1384.4" y="395.7"/>
<use href="#mRs" x="1385" y="394.3"/>
<use href="#mRs" x="1385.7" y="392.8"/>
<use href="#mRs" x="1386.4" y="391.4"/>
<use href="#mRs" x="1387" y="389.9"/>
<use href="#mRs" x="1387.7" y="388.5"/>
<use href="#mRs" x="1388.5" y="387.1"/>
<use href="#mRs" x="1389.3" y="385.7"/>
<use href="#mRs" x="1390.1" y="384.3"/>
<use href="#mRs" x="1390.9" y="382.9"/>
<use href="#mRs" x="1391.8" y="381.6"/>
<use href="#mRs" x="1392.7" y="380.3"/>
<use href="#mRs" x="1393.6" y="378.9"/>
<use href="#mRs" x="1394.5" y="377.6"/>
<use href="#mRs" x="1395.4" y="376.3"/>
<use href="#mRs" x="1396.4" y="375"/>
<use href="#mRs" x="1397.3" y="373.8"/>
<use href="#mRs" x="1398.3" y="372.5"/>
<use href="#mRs" x="1399.3" y="371.2"/>
<use href="#mRs" x="1400.3" y="370"/>
<use href="#mRs" x="1401.3" y="368.7"/>
<use href="#mRs" x="1402.3" y="367.5"/>
<use href="#mRs" x="1403.4" y="366.3"/>
<use href="#mRs" x="1404.4" y="365.1"/>
<use href="#mRs" x="1405.5" y="363.9"/>
<use href="#mRs" x="1406.6" y="362.7"/>
<use href="#mRs" x="1407.7" y="361.5"/>
<use href="#mRs" x="1408.8" y="360.4"/>
<use href="#mRs" x="1409.9" y="359.3"/>
<use href="#mRs" x="1411" y="358.1"/>
<use href="#mRs" x="1412.2" y="357"/>
<use href="#mRs" x="1413.3" y="355.9"/>
<use href="#mRs" x="1414.5" y="354.8"/>
<use href="#mRs" x="1415.7" y="353.7"/>
<use href="#mRs" x="1416.8" y="352.6"/>
<use href="#mRs" x="1418" y="351.5"/>
<use href="#mRs" x="1419.2" y="350.4"/>
<use href="#mRs" x="1420.3" y="349.3"/>
<use href="#mRs" x="1421.5" y="348.2"/>
<use href="#mRs" x="1422.7" y="347.1"/>
<use href="#mRs" x="1423.8" y="346.1"/>
<use href="#mRs" x="1425" y="345"/>
<use href="#mRs" x="1426.2" y="343.9"/>
<use href="#mRs" x="1427.4" y="342.8"/>
<use href="#mRs" x="1428.5" y="341.7"/>
<use href="#mRs" x="1429.7" y="340.6"/>
<use href="#mRs" x="1430.9" y="339.5"/>
<use href="#mRs" x="1432.1" y="338.5"/>
<use href="#mRs" x="1433.3" y="337.4"/>
<use href="#mRs" x="1434.5" y="336.3"/>
<use href="#mRs" x="1435.7" y="335.3"/>
<use href="#mRs" x="1436.9" y="334.2"/>
<use href="#mRs" x="1438.1" y="333.2"/>
<use href="#mRs" x="1439.3" y="332.2"/>
<use href="#mRs" x="1440.5" y="331.1"/>
<use href="#mRs" x="1441.8" y="330.1"/>
<use href="#mRs" x="1443" y="329.1"/>
<use href="#mRs" x="1444.2" y="328"/>
<use href="#mRs" x="1445.4" y="327"/>
<use href="#mRs" x="1446.7" y="326"/>
<use href="#mRs" x="1447.9" y="325"/>
<use href="#mRs" x="1449.1" y="324"/>
<use href="#mRs" x="1450.4" y="323"/>
<use href="#mRs" x="1451.6" y="322"/>
<use href="#mRs" x="1452.9" y="321"/>
<use href="#mRs" x="1454.2" y="320"/>
<use href="#mRs" x="1455.5" y="319"/>
<use href="#mRs" x="1456.7" y="318.1"/>
<use href="#mRs" x="1458" y="317.1"/>
<use href="#mRs" x="1459.3" y="316.2"/>
<use href="#mRs" x="1460.6" y="315.3"/>
<use href="#mRs" x="1462" y="314.4"/>
<use href="#mRs" x="1463.3" y="313.5"/>
<use href="#mRs" x="1464.7" y="312.7"/>
<use href="#mRs" x="1466" y="311.8"/>
<use href="#mRs" x="1467.4" y="311"/>
<use href="#mRs" x="1468.8" y="310.2"/>
<use href="#mRs" x="1470.2" y="309.5"/>
<use href="#mRs" x="1471.6" y="308.7"/>
<use href="#mRs" x="1473" y="307.9"/>
<use href="#mRs" x="1474.4" y="307.1"/>
<use href="#mRs" x="1475.8" y="306.3"/>
<use href="#mRs" x="1477.2" y="305.6"/>
<use href="#mRs" x="1478.6" y="304.8"/>
<use href="#mRs" x="1480" y="304.1"/>
<use href="#mRs" x="1481.4" y="303.3"/>
<use href="#mRs" x="1482.8" y="302.6"/>
<use href="#mRs" x="1484.3" y="301.9"/>
<use href="#mRs" x="1485.7" y="301.1"/>
<use href="#mRs" x="1487.1" y="300.4"/>
<use href="#mRs" x="1488.6" y="299.7"/>
<use href="#mRs" x="1490" y="299"/>
<use href="#mRs" x="1491.4" y="298.2"/>
<use href="#mRs" x="1492.9" y="297.6"/>
<path d="M1350.6,745.7 C1351.5,732.7 1352.7,721.5 1353.3,708.5 C1354.1,690.4 1354.1,674.9 1354.6,656.8 C1355,640.6 1355.4,626.6 1355.9,610.4 C1356.3,597.1 1356.6,585.6 1357.2,572.3 C1357.7,561.2 1358.4,551.6 1359.1,540.5 C1359.6,532.1 1360.1,525 1360.7,516.6 C1361.3,509.2 1361.8,502.8 1362.5,495.4 C1363.1,489.3 1363.7,484.2 1364.4,478.1 C1365,473 1365.3,468.7 1366,463.6 C1366.6,459.2 1367.2,455.5 1367.9,451.1 C1368.5,447.6 1369.1,444.5 1369.7,441 C1370.3,437.7 1370.7,435 1371.3,431.7" stroke="#ed1c24" stroke-width="5.2"/>
<path d="M1493.6,297 C1493.7,295.2 1493.7,293.6 1493.8,291.8 C1494.1,282.4 1493.5,274.2 1494.6,264.8 C1495.3,258.7 1497.5,253.8 1499.1,247.8 C1499.1,247.8 1499.1,247.8 1499.1,247.8 C1501.2,249.1 1503,250.3 1505.1,251.6 C1505.1,251.6 1505.1,251.6 1505.1,251.6 C1508.6,249.9 1511.5,248.3 1515,246.7 C1520.5,244.1 1525.3,241.9 1530.9,239.5 C1540.6,235.3 1549.1,231.9 1558.8,227.6 C1569.3,222.9 1578,218.2 1588.6,213.6 C1598.9,209.2 1608,205.8 1618.4,201.7 C1628.2,197.9 1636.5,194.6 1646.3,191 C1657.4,186.9 1667,183.7 1678.1,179.8 C1687.4,176.6 1695.3,173.5 1704.8,170.7 C1716.2,167.2 1726.3,165.3 1737.8,161.9 C1746.9,159.2 1754.5,156.1 1763.6,153.2 C1769.3,151.3 1774.2,149.9 1780,148.3 C1794.6,144.4 1807.1,141.2 1821.8,137.6 C1841.9,132.6 1859.2,128.2 1879.4,123.6 C1899.8,119.1 1917.3,115.3 1937.9,111.7 C1948,110 1956.8,109.2 1967,108.5 C1977.1,107.8 1985.8,107.5 1996,107.7 C2001.2,107.9 2005.7,108.2 2010.7,109.7 C2015.2,111.1 2019.3,112.4 2022.6,115.7 C2026.6,119.7 2028.3,124.5 2030.6,129.6 C2033.2,135.7 2035,141.1 2036.6,147.5 C2038.5,155.7 2039.4,163 2040.5,171.4 C2041.9,181.1 2042.7,189.5 2043.7,199.2 C2044.8,209 2045.6,217.3 2046.5,227.1 C2047,232.6 2047.4,237.4 2047.7,243 C2048.5,255.5 2049.1,266.2 2049.7,278.8 C2050.3,292.7 2050.8,304.6 2051.3,318.6 C2051.8,333 2052,345.4 2052.5,359.9 C2052.7,366.9 2052.9,372.8 2053.3,379.8 C2053.6,387 2054,393.2 2054.5,400.5 C2054.5,400.5 2054.5,400.5 2054.5,400.5 C2056.3,404.1 2057.8,407.2 2059.6,410.8 C2059.6,410.8 2059.6,410.8 2059.6,410.8 C2063.4,412.1 2066.5,413.5 2070.4,414.4 C2074.8,415.4 2078.7,415.6 2083.1,416.4 C2092.6,418.1 2100.7,419.6 2110.2,421.5 C2121,423.8 2130.3,426.1 2141.2,428.3 C2151.2,430.3 2159.8,431.8 2169.8,433.5 C2180.2,435.2 2189.3,436.3 2199.6,438.2 C2206.7,439.5 2212.6,441.1 2219.5,442.6 C2223,443.4 2226,443.9 2229.5,444.6" stroke="#ed1c24" stroke-width="5.2"/>
<use href="#mR" x="1350.6" y="745.7"/>
<use href="#mR" x="1353.3" y="708.5"/>
<use href="#mR" x="1354.6" y="656.8"/>
<use href="#mR" x="1355.9" y="610.4"/>
<use href="#mR" x="1357.2" y="572.3"/>
<use href="#mR" x="1359.1" y="540.5"/>
<use href="#mR" x="1360.7" y="516.6"/>
<use href="#mR" x="1362.5" y="495.4"/>
<use href="#mR" x="1364.4" y="478.1"/>
<use href="#mR" x="1366" y="463.6"/>
<use href="#mR" x="1367.9" y="451.1"/>
<use href="#mR" x="1369.7" y="441"/>
<use href="#mR" x="1371.3" y="431.7"/>
<use href="#mR" x="1493.4" y="297.4"/>
<use href="#mR" x="1530.9" y="239.5"/>
<use href="#mR" x="1588.6" y="213.6"/>
<use href="#mR" x="1646.3" y="191"/>
<use href="#mR" x="1704.8" y="170.7"/>
<use href="#mR" x="1763.6" y="153.2"/>
<use href="#mR" x="1821.8" y="137.6"/>
<use href="#mR" x="1879.4" y="123.6"/>
<use href="#mR" x="1937.9" y="111.7"/>
<use href="#mR" x="1996" y="107.7"/>
<use href="#mR" x="2047.7" y="243"/>
<use href="#mR" x="2083.1" y="416.4"/>
<use href="#mR" x="2141.2" y="428.3"/>
<use href="#mR" x="2199.6" y="438.2"/>
</g>
<rect x="1348.5" y="29.4" width="872.7" height="720.1" fill="none" stroke="#231f20" stroke-width="3"/>
<path d="M2221,27.9 V751" fill="none" stroke="#231f20" stroke-width="4"/>
<path d="M1494,749.5 v-13 M1639.4,749.5 v-13 M1784.8,749.5 v-13 M1930.3,749.5 v-13 M2075.8,749.5 v-13 M1348.5,748.3 h13.5 M1348.5,625.3 h13.5 M1348.5,501.1 h13.5 M1348.5,376.8 h13.5 M1348.5,252.6 h13.5 M1348.5,128.4 h13.5" fill="none" stroke="#231f20" stroke-width="3"/>
<text x="1350.5" y="813.2" text-anchor="middle">0</text>
<text x="1496" y="813.2" text-anchor="middle">2</text>
<text x="1641.4" y="813.2" text-anchor="middle">4</text>
<text x="1786.8" y="813.2" text-anchor="middle">6</text>
<text x="1932.3" y="813.2" text-anchor="middle">8</text>
<text x="2077.8" y="813.2" text-anchor="middle">10</text>
<text x="2223.2" y="813.2" text-anchor="middle">12</text>
<text x="1324" y="762.6" text-anchor="end">0</text>
<text x="1324" y="639.2" text-anchor="end">1000</text>
<text x="1324" y="515.8" text-anchor="end">2000</text>
<text x="1324" y="392.3" text-anchor="end">3000</text>
<text x="1324" y="268.9" text-anchor="end">4000</text>
<text x="1324" y="145.5" text-anchor="end">5000</text>
<text x="1784.8" y="888.3" text-anchor="middle"><tspan class="cj">位移</tspan>/mm</text>
<text transform="translate(1182.5,389.3) rotate(-90)" text-anchor="middle"><tspan class="cj">载荷</tspan>/N</text>
<text x="1784.2" y="962.8" text-anchor="middle" style="font-size:55px">(b) <tspan class="cj">剪切型</tspan></text>
<path d="M1376.9,73.6 h79.2" stroke="#5dbf2f" stroke-width="5" fill="none"/>
<use href="#mC" x="1416.5" y="73.6"/>
<text x="1462.4" y="90.4">C</text>
<text class="cj" transform="translate(1513.2,90.6) scale(1,0.9)">型</text>
<path d="M1376.9,134.5 h79.2" stroke="#ed1c24" stroke-width="5" fill="none"/>
<use href="#mR" x="1416.5" y="134.5"/>
<text x="1462.4" y="151.3">II</text>
<text class="cj" transform="translate(1513.1,151.5) scale(1,0.9)">型</text>
<path d="M1376.9,196 h79.2" stroke="#231f20" stroke-width="5" fill="none"/>
<use href="#mK" x="1416.5" y="196"/>
<text x="1462.4" y="212.8">O</text>
<text class="cj" transform="translate(1516.3,213) scale(1,0.9)">型</text>
</g>
<g id="chart2">
<g clip-path="url(#cp2)" fill="none" stroke-linejoin="round" stroke-linecap="butt">
<path d="M2452,745 C2458.3,739.8 2462.9,734 2470,730 C2479.9,724.5 2489.2,721.2 2500,718 C2512.9,714.2 2524.4,713.1 2537.5,709.9 C2557.8,704.7 2574.8,698.9 2595.1,693.9 C2619.5,688 2640.6,684.1 2665.1,678.8 C2689.4,673.6 2710.2,669.3 2734.4,663.7 C2746.7,660.9 2757,657.8 2769.4,655 C2781.5,652.2 2792.2,650.5 2804.4,647.8 C2816.7,645.1 2827.1,642.4 2839.4,639.5 C2851.6,636.5 2862.2,634.4 2874.4,631.1 C2887.1,627.6 2897.9,624.2 2910.4,620 C2922.5,615.9 2932.5,611.8 2944.5,607.4 C2956.7,603 2967.4,599.6 2979.5,594.9 C2991.8,590.2 3002.3,585.9 3014.3,580.6 C3026.7,575 3037.3,570 3049.4,563.7 C3061.7,557.4 3072.4,552.2 3084.1,544.8 C3096.9,536.7 3107.4,529.1 3119.2,519.7 C3131.8,509.6 3142,500.1 3153.7,489 C3161.4,481.7 3167.6,475.2 3174.4,467.1 C3179.8,460.8 3183.5,454.7 3188.4,448 C3191.9,443.2 3194.6,438.8 3198.3,434.1 C3199.7,432.3 3201.4,431.2 3203.1,429.7 C3203.1,429.7 3203.1,429.7 3203.1,429.7 C3203.9,434.4 3204.9,438.5 3205.5,443.2 C3206.7,453 3206.7,461.4 3208.3,471.1 C3209.8,480.9 3211.3,489.4 3214.2,498.9 C3216.5,506.5 3219.5,512.6 3223,519.6 C3225,523.8 3227.8,526.8 3230.1,530.8 C3231.7,533.5 3231.6,536.9 3234.1,538.7 C3237.6,541.4 3242.3,540.4 3246.1,542.7 C3250.9,545.8 3254.4,549.4 3258,553.8 C3261.1,557.7 3261.7,562.4 3264.9,566.2 C3268.7,570.7 3273.2,573.1 3277.5,577 C3281.4,580.6 3284.5,583.9 3288.2,587.7 C3289.9,589.5 3291,591.5 3292.9,593.1 C3296.7,596.3 3299.9,599.2 3304.3,601.3 C3310.3,604.2 3315.9,605.6 3322.2,607.4 C3326.6,608.7 3330.4,609.3 3334.8,610.3" stroke="#231f20" stroke-width="5.2"/>
<use href="#mK" x="2560.1" y="703.6"/>
<use href="#mK" x="2595.1" y="693.9"/>
<use href="#mK" x="2630.1" y="686.4"/>
<use href="#mK" x="2665.1" y="678.8"/>
<use href="#mK" x="2699.7" y="671.3"/>
<use href="#mK" x="2734.4" y="663.7"/>
<use href="#mK" x="2769.4" y="655"/>
<use href="#mK" x="2804.4" y="647.8"/>
<use href="#mK" x="2839.4" y="639.5"/>
<use href="#mK" x="2874.4" y="631.1"/>
<use href="#mK" x="2910.4" y="620"/>
<use href="#mK" x="2944.5" y="607.4"/>
<use href="#mK" x="2979.5" y="594.9"/>
<use href="#mK" x="3014.3" y="580.6"/>
<use href="#mK" x="3049.4" y="563.7"/>
<use href="#mK" x="3084.1" y="544.8"/>
<use href="#mK" x="3119.2" y="519.7"/>
<use href="#mK" x="3153.7" y="489"/>
<use href="#mK" x="3188.4" y="448"/>
<use href="#mK" x="3223" y="519.6"/>
<use href="#mK" x="3258" y="553.8"/>
<use href="#mK" x="3292.9" y="593.1"/>
<use href="#mCs" x="2462" y="749"/>
<use href="#mCs" x="2463.3" y="748.1"/>
<use href="#mCs" x="2464.6" y="747.1"/>
<use href="#mCs" x="2465.9" y="746.2"/>
<use href="#mCs" x="2467.2" y="745.3"/>
<use href="#mCs" x="2468.5" y="744.4"/>
<use href="#mCs" x="2469.8" y="743.4"/>
<use href="#mCs" x="2471.1" y="742.5"/>
<use href="#mCs" x="2472.5" y="741.7"/>
<use href="#mCs" x="2473.8" y="740.8"/>
<use href="#mCs" x="2475.2" y="740"/>
<use href="#mCs" x="2476.6" y="739.1"/>
<use href="#mCs" x="2477.9" y="738.3"/>
<use href="#mCs" x="2479.3" y="737.5"/>
<use href="#mCs" x="2480.7" y="736.7"/>
<use href="#mCs" x="2482.1" y="735.9"/>
<use href="#mCs" x="2483.5" y="735.1"/>
<use href="#mCs" x="2484.9" y="734.4"/>
<use href="#mCs" x="2486.3" y="733.6"/>
<use href="#mCs" x="2487.8" y="732.9"/>
<use href="#mCs" x="2489.2" y="732.2"/>
<use href="#mCs" x="2490.6" y="731.6"/>
<use href="#mCs" x="2492.1" y="730.9"/>
<use href="#mCs" x="2493.6" y="730.3"/>
<use href="#mCs" x="2495" y="729.6"/>
<use href="#mCs" x="2496.5" y="729"/>
<use href="#mCs" x="2498" y="728.4"/>
<use href="#mCs" x="2499.5" y="727.8"/>
<use href="#mCs" x="2501" y="727.2"/>
<use href="#mCs" x="2502.4" y="726.6"/>
<use href="#mCs" x="2503.9" y="726"/>
<use href="#mCs" x="2505.4" y="725.4"/>
<use href="#mCs" x="2506.9" y="724.8"/>
<use href="#mCs" x="2508.4" y="724.3"/>
<use href="#mCs" x="2509.9" y="723.7"/>
<use href="#mCs" x="2511.4" y="723.2"/>
<use href="#mCs" x="2512.9" y="722.6"/>
<use href="#mCs" x="2514.4" y="722.1"/>
<use href="#mCs" x="2515.9" y="721.6"/>
<use href="#mCs" x="2517.5" y="721.1"/>
<use href="#mCs" x="2519" y="720.6"/>
<use href="#mCs" x="2520.5" y="720.1"/>
<use href="#mCs" x="2522" y="719.7"/>
<use href="#mCs" x="2523.6" y="719.2"/>
<use href="#mCs" x="2525.1" y="718.7"/>
<use href="#mCs" x="2526.6" y="718.3"/>
<use href="#mCs" x="2528.2" y="717.8"/>
<use href="#mCs" x="2529.7" y="717.4"/>
<use href="#mCs" x="2531.3" y="717"/>
<use href="#mCs" x="2532.8" y="716.6"/>
<use href="#mCs" x="2534.4" y="716.1"/>
<use href="#mCs" x="2535.9" y="715.7"/>
<use href="#mCs" x="2537.4" y="715.3"/>
<path d="M2537.5,715.3 C2545.4,712 2551.9,708.4 2560.1,705.9 C2572.2,702.3 2582.9,700.7 2595.1,697.9 C2607.4,695.1 2617.9,692.6 2630.1,690 C2642.4,687.3 2652.9,685.5 2665.1,682.8 C2677.3,680.2 2687.7,677.8 2699.7,674.9 C2711.9,671.9 2722.3,669.2 2734.4,666.1 C2746.6,662.9 2757.1,660.2 2769.4,657 C2781.6,653.8 2792.1,651.1 2804.4,647.8 C2816.6,644.5 2827.1,641.5 2839.4,637.9 C2851.7,634.2 2862.2,631.3 2874.4,627.1 C2886.8,622.9 2897.3,619.1 2909.4,614 C2921.9,608.7 2932.1,603.1 2944.5,597.6 C2956.3,592.4 2967.1,589.2 2978.7,583.3 C2991.4,576.9 3001.7,570.3 3013.7,562.6 C3026.3,554.5 3037.2,547.6 3048.7,537.9 C3061.8,526.9 3072.1,516.3 3083.7,503.7 C3091.1,495.7 3096.7,488.1 3102.8,479 C3109,469.9 3113.8,461.8 3118.7,452 C3125,439.5 3129.4,428.3 3134.6,415.4 C3139.1,404.4 3142.3,394.7 3146.6,383.6 C3149.3,376.6 3152.2,370.8 3154.5,363.7 C3158.5,351.3 3161.4,340.5 3164.5,327.9 C3169,309.3 3171.8,293.2 3176.4,274.6 C3180.4,258.5 3184.8,244.9 3189.2,228.9 C3193.9,211.5 3197.6,196.5 3202.3,179.2 C3206.4,163.8 3209.9,150.7 3214.2,135.4 C3217.6,123.5 3220.4,113.3 3224.2,101.6 C3226.7,93.8 3229.1,87.2 3232.1,79.7 C3234.7,73.3 3237.2,68 3240.1,61.8 C3241.8,58.2 3243.4,55.3 3245.3,51.8 C3245.3,51.8 3245.3,51.8 3245.3,51.8 C3246,57.4 3246.8,62.2 3247.2,67.7 C3248.2,78.9 3248.6,88.4 3249.2,99.6 C3250,113.5 3250.6,125.4 3251.2,139.4 C3251.9,153.3 3252.3,165.2 3252.8,179.2 C3253.3,193.1 3253.6,205 3254,218.9 C3254.4,232.9 3254.8,244.8 3255.2,258.7 C3255.4,265.7 3255.5,271.7 3255.6,278.6 C3255.9,293.1 3256.3,305.5 3256.4,320 C3256.6,340.9 3256.3,358.7 3256.4,379.6 C3256.5,397.7 3256.7,413.2 3256.8,431.3" stroke="#5dbf2f" stroke-width="5.2"/>
<use href="#mC" x="2537.5" y="715.3"/>
<use href="#mC" x="2560.1" y="705.9"/>
<use href="#mC" x="2595.1" y="697.9"/>
<use href="#mC" x="2630.1" y="690"/>
<use href="#mC" x="2665.1" y="682.8"/>
<use href="#mC" x="2699.7" y="674.9"/>
<use href="#mC" x="2734.4" y="666.1"/>
<use href="#mC" x="2769.4" y="657"/>
<use href="#mC" x="2804.4" y="647.8"/>
<use href="#mC" x="2839.4" y="637.9"/>
<use href="#mC" x="2874.4" y="627.1"/>
<use href="#mC" x="2909.4" y="614"/>
<use href="#mC" x="2944.5" y="597.6"/>
<use href="#mC" x="2978.7" y="583.3"/>
<use href="#mC" x="3013.7" y="562.6"/>
<use href="#mC" x="3048.7" y="537.9"/>
<use href="#mC" x="3083.7" y="503.7"/>
<use href="#mC" x="3118.7" y="452"/>
<use href="#mC" x="3154.5" y="363.7"/>
<use href="#mC" x="3189.2" y="228.9"/>
<use href="#mC" x="3224.2" y="101.6"/>
<use href="#mC" x="3255.6" y="278.6"/>
<use href="#mRs" x="2451" y="750"/>
<use href="#mRs" x="2451.6" y="748.5"/>
<use href="#mRs" x="2452.1" y="747"/>
<use href="#mRs" x="2452.7" y="745.5"/>
<use href="#mRs" x="2453.5" y="744.2"/>
<use href="#mRs" x="2454.5" y="742.9"/>
<use href="#mRs" x="2455.5" y="741.6"/>
<use href="#mRs" x="2456.5" y="740.4"/>
<use href="#mRs" x="2457.7" y="739.3"/>
<use href="#mRs" x="2458.8" y="738.2"/>
<use href="#mRs" x="2460" y="737.1"/>
<use href="#mRs" x="2461.3" y="736.1"/>
<use href="#mRs" x="2462.6" y="735.2"/>
<use href="#mRs" x="2463.9" y="734.3"/>
<use href="#mRs" x="2465.2" y="733.4"/>
<use href="#mRs" x="2466.5" y="732.5"/>
<use href="#mRs" x="2467.8" y="731.5"/>
<use href="#mRs" x="2469.1" y="730.6"/>
<use href="#mRs" x="2470.4" y="729.6"/>
<use href="#mRs" x="2471.7" y="728.7"/>
<use href="#mRs" x="2473" y="727.7"/>
<use href="#mRs" x="2474.3" y="726.8"/>
<use href="#mRs" x="2475.6" y="725.9"/>
<use href="#mRs" x="2476.9" y="724.9"/>
<use href="#mRs" x="2478.2" y="724"/>
<use href="#mRs" x="2479.5" y="723.2"/>
<use href="#mRs" x="2480.9" y="722.3"/>
<use href="#mRs" x="2482.2" y="721.4"/>
<use href="#mRs" x="2483.6" y="720.6"/>
<use href="#mRs" x="2485" y="719.7"/>
<use href="#mRs" x="2486.3" y="718.9"/>
<use href="#mRs" x="2487.7" y="718.1"/>
<use href="#mRs" x="2489.1" y="717.3"/>
<use href="#mRs" x="2490.5" y="716.6"/>
<use href="#mRs" x="2491.9" y="715.9"/>
<use href="#mRs" x="2493.4" y="715.2"/>
<use href="#mRs" x="2494.9" y="714.5"/>
<use href="#mRs" x="2496.3" y="713.9"/>
<use href="#mRs" x="2497.8" y="713.3"/>
<use href="#mRs" x="2499.3" y="712.8"/>
<use href="#mRs" x="2500.8" y="712.3"/>
<use href="#mRs" x="2502.4" y="711.8"/>
<use href="#mRs" x="2503.9" y="711.3"/>
<use href="#mRs" x="2505.4" y="710.8"/>
<use href="#mRs" x="2506.9" y="710.3"/>
<use href="#mRs" x="2508.5" y="709.8"/>
<use href="#mRs" x="2510" y="709.4"/>
<use href="#mRs" x="2511.5" y="708.9"/>
<use href="#mRs" x="2513.1" y="708.5"/>
<use href="#mRs" x="2514.6" y="708"/>
<use href="#mRs" x="2516.1" y="707.6"/>
<use href="#mRs" x="2517.7" y="707.2"/>
<use href="#mRs" x="2519.2" y="706.8"/>
<use href="#mRs" x="2520.8" y="706.4"/>
<use href="#mRs" x="2522.3" y="706"/>
<use href="#mRs" x="2523.9" y="705.6"/>
<use href="#mRs" x="2525.4" y="705.2"/>
<use href="#mRs" x="2527" y="704.8"/>
<use href="#mRs" x="2528.5" y="704.4"/>
<use href="#mRs" x="2530.1" y="704.1"/>
<use href="#mRs" x="2531.7" y="703.8"/>
<use href="#mRs" x="2533.2" y="703.4"/>
<use href="#mRs" x="2534.8" y="703.3"/>
<use href="#mRs" x="2536.4" y="703.2"/>
<path d="M2537.5,703.1 C2545.4,699.9 2551.9,696.4 2560.1,693.9 C2572.2,690.4 2582.9,688.8 2595.1,686 C2607.4,683.1 2617.8,680.3 2630.1,677.6 C2642.3,675 2652.9,673.5 2665.1,670.9 C2677.3,668.3 2687.6,665.7 2699.7,662.9 C2711.9,660.1 2722.3,658.1 2734.4,655 C2746.7,651.8 2757.1,648.5 2769.4,645 C2781.6,641.5 2792.1,638.6 2804.4,635.1 C2816.6,631.6 2827.1,628.7 2839.4,625.1 C2851.7,621.5 2862.2,618.5 2874.4,614.4 C2886.8,610.2 2897.2,606.2 2909.4,601.3 C2921.5,596.4 2931.7,591.8 2943.7,586.5 C2956,581 2966.7,576.7 2978.7,570.6 C2991.2,564.1 3001.9,558.4 3013.7,550.7 C3026.4,542.3 3037.2,534.8 3048.7,524.8 C3061.7,513.5 3072.1,503 3083.7,490.2 C3091.1,482 3096.7,474.3 3102.8,465.1 C3109,455.8 3114.1,447.5 3118.7,437.3 C3125.2,423 3129.4,410.2 3134.6,395.5 C3139.1,383.1 3142.1,372.1 3146.6,359.7 C3149.1,352.6 3152.3,346.9 3154.5,339.8 C3157.2,331.6 3158.8,324.4 3160.5,315.9 C3160.8,314.4 3158.2,321.6 3158.5,320 C3162.3,301.3 3166.4,285.4 3170.5,266.7 C3174.1,250 3176.7,235.6 3180.4,218.9 C3182.9,207.7 3185.7,198.3 3188.4,187.1 C3191.3,174.6 3193.2,163.8 3196.3,151.3 C3198.8,141.5 3201.2,133.1 3204.3,123.4 C3206.1,117.8 3207.8,112.9 3210.2,107.5 C3211,105.9 3212.6,102 3213.4,103.6 C3216,108.6 3215.2,113.9 3216.2,119.5 C3217.5,126.4 3219.3,132.3 3220.2,139.4 C3221.1,146.3 3221.1,152.3 3221.4,159.3 C3222,174.2 3222.3,186.9 3223,201.8 C3223.6,214.8 3224.3,225.9 3225,238.8 C3225.7,252.8 3226.3,264.7 3227,278.6 C3227.6,293.1 3228.1,305.5 3228.5,320 C3229.2,340.9 3229.7,358.7 3230.1,379.6 C3230.8,407.4 3231.2,431.3 3231.7,459.2 C3232.2,482.1 3232.5,501.8 3232.9,524.8" stroke="#ed1c24" stroke-width="5.2"/>
<use href="#mR" x="2537.5" y="703.1"/>
<use href="#mR" x="2560.1" y="693.9"/>
<use href="#mR" x="2595.1" y="686"/>
<use href="#mR" x="2630.1" y="677.6"/>
<use href="#mR" x="2665.1" y="670.9"/>
<use href="#mR" x="2699.7" y="662.9"/>
<use href="#mR" x="2734.4" y="655"/>
<use href="#mR" x="2769.4" y="645"/>
<use href="#mR" x="2804.4" y="635.1"/>
<use href="#mR" x="2839.4" y="625.1"/>
<use href="#mR" x="2874.4" y="614.4"/>
<use href="#mR" x="2909.4" y="601.3"/>
<use href="#mR" x="2943.7" y="586.5"/>
<use href="#mR" x="2978.7" y="570.6"/>
<use href="#mR" x="3013.7" y="550.7"/>
<use href="#mR" x="3048.7" y="524.8"/>
<use href="#mR" x="3083.7" y="490.2"/>
<use href="#mR" x="3118.7" y="437.3"/>
<use href="#mR" x="3154.5" y="339.8"/>
<use href="#mR" x="3188.4" y="187.1"/>
<use href="#mR" x="3223" y="201.8"/>
</g>
<rect x="2450.8" y="29.4" width="872.8" height="720.1" fill="none" stroke="#231f20" stroke-width="3"/>
<path d="M2581.6,749.5 v-13 M2712.3,749.5 v-13 M2843.1,749.5 v-13 M2973.9,749.5 v-13 M3104.6,749.5 v-13 M3235.4,749.5 v-13 M2450.8,748.3 h13.5 M2450.8,629.5 h13.5 M2450.8,509.5 h13.5 M2450.8,389.4 h13.5 M2450.8,269.4 h13.5 M2450.8,149.4 h13.5 M2450.8,30.6 h13.5" fill="none" stroke="#231f20" stroke-width="3"/>
<text x="2450.8" y="813.2" text-anchor="middle">0</text>
<text x="2581.6" y="813.2" text-anchor="middle">3</text>
<text x="2712.3" y="813.2" text-anchor="middle">6</text>
<text x="2843.1" y="813.2" text-anchor="middle">9</text>
<text x="2973.9" y="813.2" text-anchor="middle">12</text>
<text x="3104.6" y="813.2" text-anchor="middle">15</text>
<text x="3235.4" y="813.2" text-anchor="middle">18</text>
<text x="2428.1" y="768.7" text-anchor="end">0</text>
<text x="2428.1" y="648.4" text-anchor="end">500</text>
<text x="2428.1" y="528.1" text-anchor="end">1000</text>
<text x="2428.1" y="407.8" text-anchor="end">1500</text>
<text x="2428.1" y="287.5" text-anchor="end">2000</text>
<text x="2428.1" y="167.3" text-anchor="end">2500</text>
<text x="2428.1" y="47" text-anchor="end">3000</text>
<text x="2887.2" y="888.3" text-anchor="middle"><tspan class="cj">位移</tspan>/mm</text>
<text transform="translate(2294.5,389.3) rotate(-90)" text-anchor="middle"><tspan class="cj">载荷</tspan>/N</text>
<text x="2885.6" y="962.8" text-anchor="middle" style="font-size:55px">(c) <tspan class="cj">剥离型</tspan></text>
<path d="M2481.8,73.6 h79.2" stroke="#5dbf2f" stroke-width="5" fill="none"/>
<use href="#mC" x="2521.4" y="73.6"/>
<text x="2567.3" y="90.4">C</text>
<text class="cj" transform="translate(2617.7,90.6) scale(1,0.9)">型</text>
<path d="M2481.8,134.5 h79.2" stroke="#ed1c24" stroke-width="5" fill="none"/>
<use href="#mR" x="2521.4" y="134.5"/>
<text x="2567.3" y="151.3">II</text>
<text class="cj" transform="translate(2617.6,151.5) scale(1,0.9)">型</text>
<path d="M2481.8,196 h79.2" stroke="#231f20" stroke-width="5" fill="none"/>
<use href="#mK" x="2521.4" y="196"/>
<text x="2567.3" y="212.8">O</text>
<text class="cj" transform="translate(2620.8,213) scale(1,0.9)">型</text>
</g>
</svg></body></html>
